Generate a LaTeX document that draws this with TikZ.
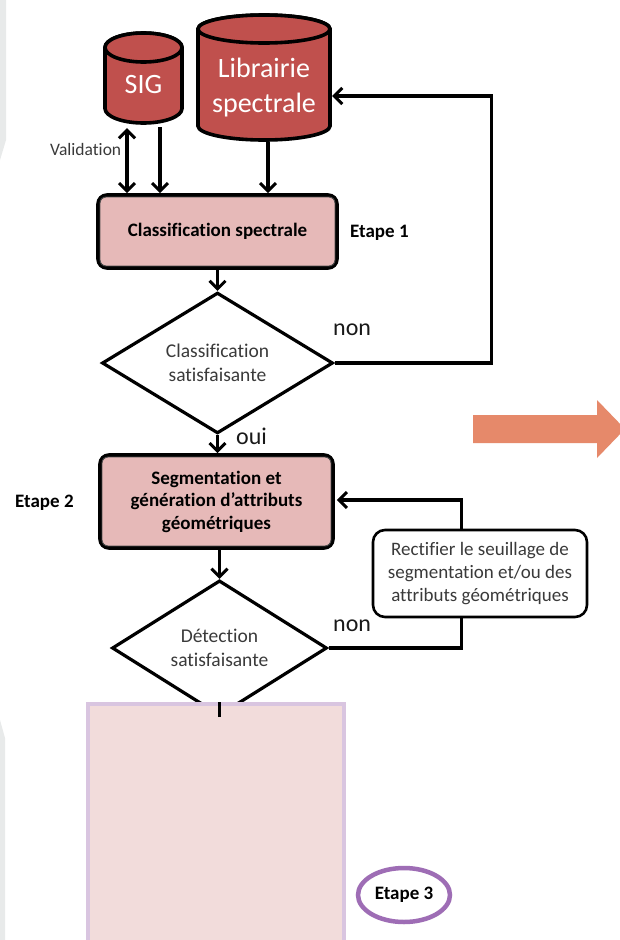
\documentclass[tikz,border=0pt]{standalone}
\usepackage{fontspec}
\setmainfont{Carlito}[RawFeature={-liga;-clig;-dlig}]
\usetikzlibrary{shapes.geometric,arrows.meta,backgrounds}
\definecolor{cylred}{HTML}{C0504D}
\definecolor{boxpink}{HTML}{E6B9B8}
\definecolor{lightpink}{HTML}{F2DCDB}
\definecolor{lilac}{HTML}{D9C5E0}
\definecolor{purp}{HTML}{9E6DB5}
\definecolor{orangearr}{HTML}{E6896A}
\definecolor{txtgrey}{HTML}{3A3A3A}
\definecolor{slidegrey}{HTML}{E8EAEA}
\tikzset{
  conn/.style={line width=3.6pt, draw=black},
  barb/.tip={Straight Barb[length=8pt,width=16pt,line width=3pt]},
  arr/.style={conn, -barb},
  arrboth/.style={conn, barb-barb},
  cyl/.style={fill=cylred, draw=black, line width=3.6pt},
  cyltext/.style={text=white, align=center, inner sep=0pt, font=\fontsize{28}{35}\selectfont},
  stepbox/.style={rectangle, rounded corners=9pt, draw=black, line width=3.6pt, fill=boxpink,
     align=center, inner sep=0pt, font=\bfseries\fontsize{19}{22.5}\selectfont},
  innerb/.style={draw=black!70, line width=0.9pt, rounded corners=6pt},
  decision/.style={diamond, draw=black, line width=3.2pt, fill=white, inner sep=0pt,
     align=center, text=txtgrey, font=\fontsize{19.5}{24}\selectfont},
  notebox/.style={rectangle, rounded corners=12pt, draw=black, line width=2.6pt, fill=white,
     align=center, inner sep=0pt, text=txtgrey, font=\fontsize{19}{23}\selectfont},
  steplabel/.style={font=\bfseries\fontsize{19}{22}\selectfont, inner sep=0pt},
  answer/.style={font=\fontsize{24}{28}\selectfont, inner sep=0pt, text=black!90}
}
\begin{document}
\begin{tikzpicture}[x=1pt,y=1pt]
\useasboundingbox (0,0) rectangle (620,-940);
\begin{scope}[on background layer]
\fill[white] (0,0) rectangle (620,-940);
% slide background strips at left
\fill[slidegrey] (0,0) -- (6,0) -- (6,-140) -- (0,-160) -- cycle;
\fill[slidegrey] (0,-720) -- (5,-738) -- (5,-940) -- (0,-940) -- cycle;
\end{scope}

% cylinder SIG
\path[cyl] (105,-47.5) -- (105,-108.5) arc[start angle=180,end angle=360,x radius=38.5,y radius=14.5] -- (182,-47.5) arc[start angle=0,end angle=180,x radius=38.5,y radius=14.5] -- cycle;
\draw[cyl] (143.5,-47.5) ellipse[x radius=38.5,y radius=14.5];
\node[cyltext, minimum width=77pt, minimum height=76pt] (sig) at (143.5,-85) {SIG};

% cylinder Librairie
\path[cyl] (198,-29) -- (198,-126) arc[start angle=180,end angle=360,x radius=66,y radius=14] -- (330,-29) arc[start angle=0,end angle=180,x radius=66,y radius=14] -- cycle;
\draw[cyl] (264,-29) ellipse[x radius=66,y radius=14];
\node[cyltext, minimum width=132pt, minimum height=105pt] (lib) at (264,-87.5) {Librairie\\spectrale};

% step 1
\node[stepbox, minimum width=239pt, minimum height=73pt] (c1) at (217.5,-231.5) {Classification spectrale};
\draw[innerb] ([shift={(3.8pt,-3.8pt)}]c1.north west) rectangle ([shift={(-3.8pt,3.8pt)}]c1.south east);
\node[steplabel, anchor=west] (e1) at (350,-233) {Etape 1};

\node[decision, minimum width=231pt, minimum height=94pt] (d1) at (217.5,-363) {Classification\\satisfaisante};

% step 2
\node[stepbox, minimum width=233pt, minimum height=93pt] (c2) at (216.5,-501.5) {Segmentation et\\génération d’attributs\\géométriques};
\draw[innerb] ([shift={(3.8pt,-3.8pt)}]c2.north west) rectangle ([shift={(-3.8pt,3.8pt)}]c2.south east);
\node[steplabel, anchor=west] (e2) at (15,-503) {Etape 2};

\node[decision, minimum width=215pt, minimum height=96pt] (d2) at (219.5,-648) {Détection\\satisfaisante};

\node[notebox, minimum width=214pt, minimum height=87pt] (rect) at (480,-573.5) {Rectifier le seuillage de\\segmentation et/ou des\\attributs géométriques};

% step 3
\node[rectangle, fill=lightpink, draw=lilac, line width=4pt, minimum width=256pt, minimum height=245pt, inner sep=0pt] (p3) at (216,-826.5) {};
\node[ellipse, draw=purp, line width=4.5pt, minimum width=92pt, minimum height=54pt, inner sep=0pt, font=\bfseries\fontsize{19}{22}\selectfont] (e3) at (404,-895) {Etape 3};

% connectors
\draw[arrboth] ([xshift=-16.5pt,yshift=-5pt]sig.south) coordinate (va) -- (va |- c1.north)
   node[pos=0.33, left, inner sep=4pt, text=txtgrey, font=\fontsize{17.5}{20}\selectfont] {Validation};
\draw[arr] ([xshift=16.5pt,yshift=-4pt]sig.south) coordinate (vb) -- (vb |- c1.north);
\draw[arr] ([xshift=4pt,yshift=-2pt]lib.south) coordinate (vc) -- (vc |- c1.north);
\draw[arr] (c1.south) -- (d1.north);
\draw[arr] (d1.east) -- ++(157,0) |- ([xshift=2pt,yshift=-8.5pt]lib.east);
\node[answer, anchor=west] (non1) at (333,-330) {non};
\draw[arr] (d1.south) -- (d1.south |- c2.north);
\node[answer, anchor=west] (oui) at (236,-436) {oui};
\draw[arr] (c2.south -| d2.north) -- (d2.north);
\begin{scope}[on background layer]
\draw[arr] (d2.east) -- ++(133,0) |- ([xshift=2pt,yshift=1.5pt]c2.east);
\end{scope}
\node[answer, anchor=west] (non2) at (333,-626) {non};
\draw[conn] (d2.south) -- (d2.south |- p3.north);

% big orange arrow
\fill[orangearr] (473,-415) -- (597,-415) -- (597,-400) -- (625,-429) -- (597,-458) -- (597,-443) -- (473,-443) -- cycle;
\end{tikzpicture}
\end{document}
